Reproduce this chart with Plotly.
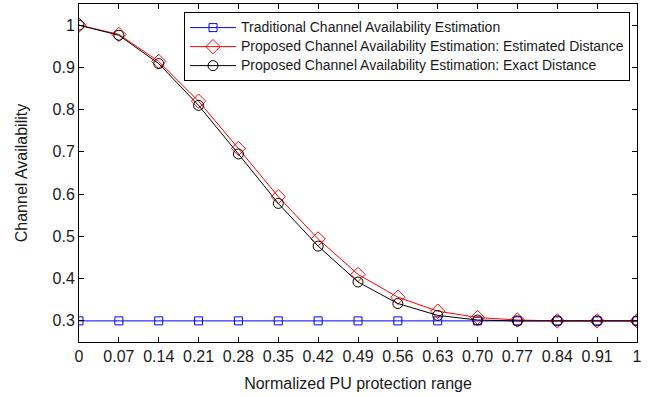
import plotly.graph_objects as go

categories = ["0", "0.07", "0.14", "0.21", "0.28", "0.35", "0.42", "0.49",
              "0.56", "0.63", "0.70", "0.77", "0.84", "0.91", "1"]
traditional = [0.3] * 15
proposed_estimated = [1.0, 0.978, 0.914, 0.820, 0.708, 0.594, 0.494, 0.410,
                      0.356, 0.323, 0.308, 0.302, 0.300, 0.300, 0.300]
proposed_exact = [1.0, 0.976, 0.909, 0.810, 0.695, 0.578, 0.477, 0.392,
                  0.341, 0.313, 0.302, 0.300, 0.300, 0.300, 0.300]
y_ticks = [0.3, 0.4, 0.5, 0.6, 0.7, 0.8, 0.9, 1.0]
y_tick_text = ["0.3", "0.4", "0.5", "0.6", "0.7", "0.8", "0.9", "1"]
series_names = ["Traditional Channel Availability Estimation",
                "Proposed Channel Availability Estimation: Estimated Distance",
                "Proposed Channel Availability Estimation: Exact Distance"]


def legend_label(text):
    return '<span style="font-size:14px">' + text + "</span>"


fig = go.Figure()
fig.add_trace(go.Scatter(
    x=categories, y=traditional, mode="lines+markers",
    name=legend_label(series_names[0]),
    line=dict(color="#0000ff", width=1),
    marker=dict(symbol="square-open", size=8, color="#0000ff", line=dict(width=1)),
))
fig.add_trace(go.Scatter(
    x=categories, y=proposed_estimated, mode="lines+markers",
    name=legend_label(series_names[1]),
    line=dict(color="#ff0000", width=1),
    marker=dict(symbol="diamond-open", size=11, color="#ff0000", line=dict(width=1)),
))
fig.add_trace(go.Scatter(
    x=categories, y=proposed_exact, mode="lines+markers",
    name=legend_label(series_names[2]),
    line=dict(color="#000000", width=1),
    marker=dict(symbol="circle-open", size=10, color="#000000", line=dict(width=1)),
))

axis_common = dict(
    showline=True, linecolor="black", linewidth=1, mirror="ticks",
    ticks="inside", ticklen=5, tickcolor="black", showgrid=False, zeroline=False,
    automargin=False,
    tickfont=dict(family="Liberation Sans, Arial", size=16, color="#1a1a1a"),
)

fig.update_layout(
    width=652, height=397,
    margin=dict(l=79, r=15, t=4, b=55),
    paper_bgcolor="white", plot_bgcolor="white",
    font=dict(family="Liberation Sans, Arial", size=16, color="#1a1a1a"),
    xaxis=dict(type="category", range=[-0.0001, 14.0001],
               tickvals=categories, ticktext=categories,
               title=dict(text="Normalized PU protection range", standoff=13,
                          font=dict(size=16)),
               **axis_common),
    yaxis=dict(range=[0.25, 1.05], tickvals=y_ticks, ticktext=y_tick_text,
               title=dict(text="Channel Availability", standoff=20,
                          font=dict(size=16)),
               **axis_common),
    legend=dict(x=0.9875, xanchor="right", y=0.976, yanchor="top",
                bgcolor="white", bordercolor="black", borderwidth=1,
                font=dict(size=12, color="#1a1a1a"),
                tracegroupgap=0, itemwidth=46),
    showlegend=True,
)

fig.write_html("out.html",
               config={"displayModeBar": False},
               post_script="document.body.style.margin='0';document.body.style.overflow='hidden';")
